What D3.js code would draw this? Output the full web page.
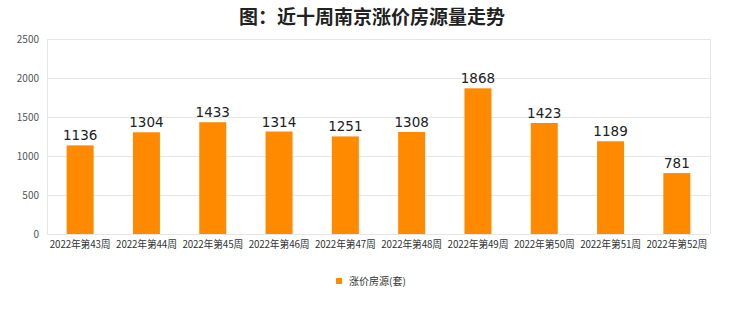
<!DOCTYPE html>
<html><head><meta charset="utf-8">
<script src="https://cdn.jsdelivr.net/npm/d3@7/dist/d3.min.js"></script>
<style>body{margin:0;background:#fff}svg{display:block}</style>
</head><body>
<script>
const categories = ["2022年第43周","2022年第44周","2022年第45周","2022年第46周","2022年第47周","2022年第48周","2022年第49周","2022年第50周","2022年第51周","2022年第52周"];
const values = [1136,1304,1433,1314,1251,1308,1868,1423,1189,781];
const yTicks = [0,500,1000,1500,2000,2500];
const seriesName = "涨价房源(套)";
const title = "图：近十周南京涨价房源量走势";

const W = 740, H = 312;
const m = {l:47, r:30, t:39, b:78};
const svg = d3.select("body").append("svg").attr("width",W).attr("height",H);
const font = "'Noto Sans CJK SC','Noto Sans',sans-serif";

svg.append("text").attr("x",372).attr("y",24).attr("text-anchor","middle")
  .attr("font-family",font).attr("font-size",19).attr("font-weight","bold").attr("fill","#222").text(title);

const x = d3.scaleBand().domain(categories).range([m.l, W-m.r]).paddingInner(0).paddingOuter(0);
const y = d3.scaleLinear().domain([0,2500]).range([H-m.b, m.t]);

// grid
svg.append("g").selectAll("line").data(yTicks).join("line")
  .attr("x1",m.l).attr("x2",W-m.r).attr("y1",d=>y(d)).attr("y2",d=>y(d))
  .attr("stroke","#e6e6e6").attr("stroke-width",1).attr("shape-rendering","crispEdges");
svg.append("line").attr("x1",m.l).attr("x2",m.l).attr("y1",m.t).attr("y2",H-m.b).attr("stroke","#e6e6e6").attr("shape-rendering","crispEdges");
svg.append("line").attr("x1",W-m.r).attr("x2",W-m.r).attr("y1",m.t).attr("y2",H-m.b).attr("stroke","#e6e6e6").attr("shape-rendering","crispEdges");

// y axis labels
svg.append("g").selectAll("text").data(yTicks).join("text")
  .attr("x",39).attr("y",d=>y(d)+3.5).attr("text-anchor","end")
  .attr("font-family",font).attr("font-size",10).attr("fill","#555").text(d=>d);

const bw = 27;
svg.append("g").selectAll("rect").data(values).join("rect")
  .attr("x",(d,i)=>x(categories[i])+x.bandwidth()/2-bw/2).attr("width",bw)
  .attr("y",d=>y(d)).attr("height",d=>y(0)-y(d)).attr("fill","#ff8a00");

svg.append("g").selectAll("text").data(values).join("text")
  .attr("x",(d,i)=>x(categories[i])+x.bandwidth()/2).attr("y",d=>y(d)-5)
  .attr("text-anchor","middle").attr("font-family","'DejaVu Sans',sans-serif").attr("font-size",13.5).attr("fill","#222").text(d=>d);

// x labels
svg.append("g").selectAll("text").data(categories).join("text")
  .attr("x",d=>x(d)+x.bandwidth()/2).attr("y",248).attr("text-anchor","middle")
  .attr("font-family",font).attr("font-size",9.8).attr("letter-spacing",-0.15).attr("fill","#333").text(d=>d);

// legend
svg.append("rect").attr("x",336).attr("y",278).attr("width",6).attr("height",6).attr("fill","#ff8a00");
svg.append("text").attr("x",349).attr("y",284.5).attr("font-family",font).attr("font-size",10).attr("fill","#333").text(seriesName);
</script>
</body></html>
